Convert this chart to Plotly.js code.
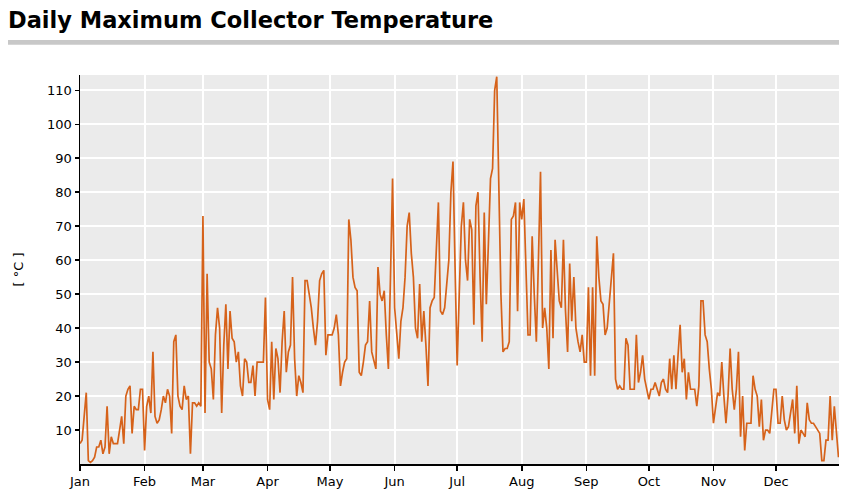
<!DOCTYPE html>
<html>
<head>
<meta charset="utf-8">
<script src="https://cdn.plot.ly/plotly-3.0.1.min.js"></script>
<style>html,body{margin:0;padding:0;background:#fff;}#chart{width:853px;height:497px;}</style>
</head>
<body>
<div id="chart"></div>
<script>
const year = 2021;
const monthLabels = ["Jan","Feb","Mar","Apr","May","Jun","Jul","Aug","Sep","Oct","Nov","Dec"];
const janTemps = [6,7,14,21,1,0.5,1,2,5,5,7,3,5,17,3,8,6,6,6,10,14,6,20,22,23,9,17,16,16,22,22];
const febTemps = [4,17,20,15,33,14,12,13,16,20,18,22,20,9,36,38,20,17,16,23,19,20,3,18,18,17,18,17];
const marTemps = [73,15,56,30,28,19,38,46,40,15,35,47,28,45,37,36,30,33,23,20,31,30,24,24,29,20,30,30,30,30,49];
const aprTemps = [19,16,36,19,34,31,21,36,45,27,33,35,55,31,20,26,24,21,54,54,50,46,40,35,42,54,56,57,32,38];
const mayTemps = [38,38,40,44,38,23,27,30,31,72,66,55,52,51,27,26,30,35,36,48,33,30,28,58,50,48,51,38,28,55,84];
const junTemps = [46,38,31,42,46,55,70,74,62,55,40,37,53,36,45,35,23,46,48,49,62,77,45,44,46,52,60,80,89,58];
const julTemps = [29,50,70,77,60,54,72,69,41,76,80,55,36,74,47,65,84,87,110,114,80,50,33,34,34,36,72,73,77,45,77];
const augTemps = [72,78,60,38,38,67,50,36,60,86,40,46,40,28,63,37,66,57,48,46,66,45,33,59,42,55,40,36,33,38,30];
const sepTemps = [30,52,26,52,26,67,55,48,47,38,40,47,55,62,25,22,23,22,22,37,35,22,22,22,38,24,27,32,25,22];
const octTemps = [19,22,22,24,22,20,24,25,22,21,31,22,32,22,32,41,27,31,19,27,22,22,22,17,23,48,48,38,36,28,22];
const novTemps = [12,17,21,20,30,20,12,20,34,22,16,22,33,8,20,4,12,12,12,26,22,20,11,19,7,10,10,9,15,22];
const decTemps = [22,12,12,20,13,10,11,15,19,9,23,6,10,9,8,18,13,12,12,11,10,9,1,1,7,7,20,7,17,10,2];

const temps = [].concat(janTemps,febTemps,marTemps,aprTemps,mayTemps,junTemps,julTemps,augTemps,sepTemps,octTemps,novTemps,decTemps);
function pad(n){return (n<10?'0':'')+n;}
const dates = [];
const d0 = new Date(Date.UTC(year,0,1));
for (let i=0;i<temps.length;i++){
  const d = new Date(d0.getTime()+i*86400000);
  dates.push(d.getUTCFullYear()+'-'+pad(d.getUTCMonth()+1)+'-'+pad(d.getUTCDate()));
}
const monthStarts = monthLabels.map((m,i)=> year+'-'+pad(i+1)+'-01');

const font = "DejaVu Sans, Verdana, sans-serif";
const trace = {
  x: dates, y: temps, type: 'scatter', mode: 'lines',
  line: {color: '#d6621a', width: 1.7},
  hoverinfo: 'skip'
};
const layout = {
  width: 853, height: 497,
  margin: {l: 80, r: 14, t: 75, b: 33},
  paper_bgcolor: '#ffffff',
  plot_bgcolor: '#ebebeb',
  showlegend: false,
  title: {
    text: '<b>Daily Maximum Collector Temperature</b>',
    xref: 'container', x: 8/853, xanchor: 'left',
    yref: 'container', y: 1 - 20/497, yanchor: 'middle',
    font: {family: font, size: 22.5, color: '#000'}
  },
  xaxis: {
    type: 'date',
    range: [year+'-01-01', year+'-12-31 06:00'],
    tickvals: monthStarts, ticktext: monthLabels,
    showgrid: true, gridcolor: '#ffffff', gridwidth: 2,
    showline: true, linecolor: '#000', linewidth: 1.5,
    ticks: 'outside', ticklen: 5, tickcolor: '#000', tickwidth: 1.5,
    tickfont: {family: font, size: 13, color: '#000'},
    zeroline: false, fixedrange: true
  },
  yaxis: {
    range: [0, 114.5],
    tickvals: [10,20,30,40,50,60,70,80,90,100,110],
    showgrid: true, gridcolor: '#ffffff', gridwidth: 2,
    showline: true, linecolor: '#000', linewidth: 1.5,
    ticks: 'outside', ticklen: 4, tickcolor: '#000', tickwidth: 1.5,
    tickfont: {family: font, size: 13, color: '#000'},
    title: {text: '[ °C ]', font: {family: font, size: 13, color: '#000'}, standoff: 20},
    zeroline: false, fixedrange: true
  },
  shapes: [{
    type: 'rect', xref: 'paper', yref: 'paper',
    x0: (8-80)/759, x1: 1.0, y0: 1.078, y1: 1.090,
    fillcolor: '#c8c8c8', line: {width: 0}
  }]
};
Plotly.newPlot('chart', [trace], layout, {displayModeBar: false, staticPlot: true});
</script>
</body>
</html>
